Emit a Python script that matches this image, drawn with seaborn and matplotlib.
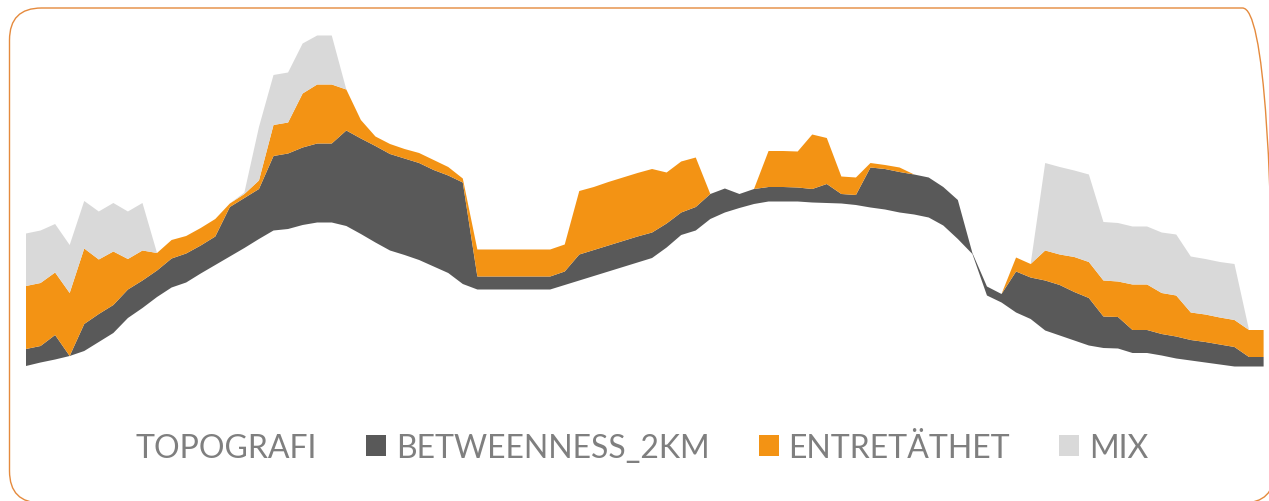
import numpy as np
import pandas as pd
import seaborn as sns
import matplotlib
matplotlib.use("Agg")
import matplotlib.pyplot as plt
from matplotlib.patches import Patch, FancyBboxPatch
from matplotlib.transforms import Affine2D

# Stacked layers along the route (86 sample points)
topografi = [28, 31.5, 34.5, 38, 43, 52, 61, 76, 86, 97,
             106.5, 111.5, 120.5, 129, 137.5, 146, 155, 163.5, 165, 169,
             171.5, 171.5, 168, 160, 151.5, 143.5, 139, 134, 127.5, 121,
             110, 104.5, 104.5, 104.5, 104.5, 104.5, 104.5, 109, 113.5, 118,
             122.5, 127, 131.5, 136, 146.5, 159, 163.5, 175, 181.5, 186,
             190, 192.5, 192.5, 192.5, 191.5, 191, 190.5, 189, 186.5, 184.5,
             181.5, 179.5, 176.5, 168.5, 155, 140, 98.5, 91.5, 81.5, 75,
             63.5, 58.5, 53.5, 48.5, 46, 45.5, 41, 41, 38.5, 35.5,
             33.5, 31.5, 29.5, 27.5, 27.5, 27.5]
betweenness_2km = [17, 16.5, 24.5, 0, 27, 28, 28, 28.5, 27.5, 26.5,
                   29, 29, 28, 28.5, 49.5, 50, 50, 74.5, 75.5, 77.5,
                   79, 79, 95.5, 95.5, 96.5, 96.5, 96.5, 97, 96.5, 97.5,
                   101.5, 13, 13, 13, 13, 13, 13, 13.5, 26, 26,
                   26, 26, 26, 25.5, 24, 22.5, 23.5, 25, 24, 14,
                   15, 14.5, 14.5, 14, 13.5, 19, 9.5, 10, 40, 40.5,
                   40.5, 40, 40, 38.5, 39, 1, 9, 8.5, 41, 41.5,
                   50, 50.5, 48.5, 47.5, 31.5, 31.5, 23, 23, 21.5, 22,
                   20.5, 20.5, 20, 19.5, 9.5, 9.5]
entretathet = [63, 63, 62.5, 63, 75.5, 54.5, 53.5, 30.5, 30, 17.5,
               18.5, 17.5, 17.5, 17.5, 3.5, 4, 8.5, 31, 31, 54,
               59, 59, 41, 18.5, 9.5, 10, 9.5, 10, 10, 8.5,
               4, 27, 27, 27, 27, 27, 27, 27, 63.5, 63,
               63.5, 63.5, 63.5, 63.5, 51, 51, 49.5, 0, 0, 0,
               0, 36, 36, 36, 54.5, 46, 17.5, 17.5, 4.5, 4,
               4.5, 0, 0, 0, 0, 0, 0, 0, 14, 13.5,
               30, 30.5, 35, 36, 36, 35.5, 45.5, 45.5, 41, 41,
               27.5, 27.5, 27, 27, 27, 27]
mix = [52.5, 52.5, 48.5, 48, 47.5, 48, 48.5, 47.5, 47.5, 0,
       0, 0, 0, 0, 0, 1.5, 53.5, 50, 50, 50,
       49, 49, 0, 0, 0, 0, 0, 0, 0, 0,
       0, 0, 0, 0, 0, 0, 0, 0, 0, 0,
       0, 0, 0, 0, 0, 0, 0, 0, 0, 0,
       0, 0, 0, 0, 0, 0, 0, 0, 0, 0,
       0, 0, 0, 0, 0, 0, 0, 0, 0, 0,
       87.5, 87.5, 86.5, 87.5, 58.5, 58.5, 58, 58, 60.5, 61,
       56, 55.5, 55.5, 56, 0, 0]

series_names = ["TOPOGRAFI", "BETWEENNESS_2KM", "ENTRETÄTHET", "MIX"]
series_colors = ["#FFFFFF", "#595959", "#F39314", "#D9D9D9"]

df = pd.DataFrame({
    "TOPOGRAFI": topografi,
    "BETWEENNESS_2KM": betweenness_2km,
    "ENTRETÄTHET": entretathet,
    "MIX": mix,
})
df.index.name = "punkt"

sns.set_theme(style="white")
plt.rcParams["font.family"] = ["Lato", "DejaVu Sans"]

W, H = 1269, 502
fig = plt.figure(figsize=(W / 100, H / 100), dpi=100)
fig.patch.set_facecolor("white")

ax = fig.add_axes([26 / W, (H - 395) / H, (1263.6 - 26) / W, 365 / H])
ax.stackplot(df.index, [df[c].values for c in series_names],
             colors=series_colors, linewidth=0, edgecolor="none")
ax.set_xlim(0, len(df) - 1)
ax.set_ylim(0, 365)
ax.set_xticks([])
ax.set_yticks([])
sns.despine(ax=ax, left=True, bottom=True)
ax.set_facecolor("none")

handles = [Patch(facecolor=c, edgecolor="none") for c in series_colors]
fig.legend(handles, series_names, loc="center", ncol=4,
           bbox_to_anchor=(627 / W, (H - 449) / H), frameon=False,
           fontsize=23, labelcolor="#7F7F7F",
           handlelength=0.62, handleheight=0.62, handletextpad=0.3,
           columnspacing=1.55, borderpad=0)

# Rounded chart-area frame, laid out in figure pixels (runs past the right and bottom edges)
px = Affine2D().scale(1 / W, 1 / H) + fig.transFigure
frame = FancyBboxPatch((9.5, -2), 1265, 495,
                       boxstyle="round,pad=0,rounding_size=32",
                       facecolor="none", edgecolor="#E58A3D", linewidth=1.0,
                       transform=px, zorder=5)
fig.patches.append(frame)

fig.savefig("out.png", dpi=100, facecolor="white")
